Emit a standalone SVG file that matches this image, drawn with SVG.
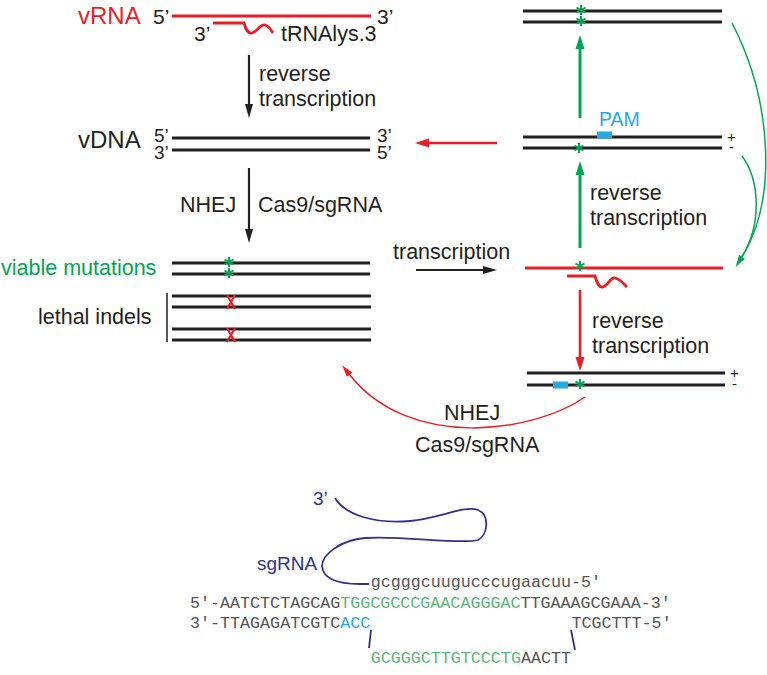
<svg xmlns="http://www.w3.org/2000/svg" width="767" height="675" viewBox="0 0 767 675">
<style>
.t{font-family:"Liberation Sans",Arial,sans-serif;font-size:21.5px;fill:#231f20}
.big{font-size:24px}
.end{font-size:21px}
.pm{font-size:15px}
.seq{font-family:"Liberation Mono","Courier New",monospace;font-size:16.7px;fill:#555}
.g{fill:#5cb87a}
.b{fill:#27aae1}
.dna{stroke:#231f20;stroke-width:2.8;fill:none}
.rna{stroke:#ed1c24;stroke-width:2.8;fill:none}
.navy{stroke:#2e3192;stroke-width:1.8;fill:none}
</style>
<defs>
<marker id="ak" markerUnits="userSpaceOnUse" markerWidth="16" markerHeight="10" viewBox="0 -5 16 10" refX="2" refY="0" orient="auto"><path d="M0,-4 L14,0 L0,4 Z" fill="#231f20"/></marker>
<marker id="ag" markerUnits="userSpaceOnUse" markerWidth="16" markerHeight="10" viewBox="0 -5 16 10" refX="2" refY="0" orient="auto"><path d="M0,-4.5 L14,0 L0,4.5 Z" fill="#00a651"/></marker>
<marker id="ar" markerUnits="userSpaceOnUse" markerWidth="16" markerHeight="10" viewBox="0 -5 16 10" refX="2" refY="0" orient="auto"><path d="M0,-4.5 L14,0 L0,4.5 Z" fill="#ed1c24"/></marker>
<marker id="ags" markerUnits="userSpaceOnUse" markerWidth="14" markerHeight="10" viewBox="0 -5 14 10" refX="1" refY="0" orient="auto"><path d="M0,-3.5 L12,0 L0,3.5 Z" fill="#00a651"/></marker>
<marker id="ars" markerUnits="userSpaceOnUse" markerWidth="14" markerHeight="10" viewBox="0 -5 14 10" refX="1" refY="0" orient="auto"><path d="M0,-3.5 L12,0 L0,3.5 Z" fill="#ed1c24"/></marker>
<g id="star"><path d="M0,-5 V5 M-4.5,-2.5 L4.5,2.5 M-4.5,2.5 L4.5,-2.5" stroke="#00a651" stroke-width="2" fill="none"/></g>
<g id="xmark"><path d="M-4,-7 L4,7 M4,-7 L-4,7" stroke="#ed1c24" stroke-width="2.2" fill="none"/></g>
</defs>

<g id="vRNA">
<text class="t big" x="78" y="24" style="fill:#ed1c24">vRNA</text>
<text class="t end" x="153" y="24">5’</text>
<line class="rna" x1="172" y1="16" x2="371" y2="16"/>
<text class="t end" x="377" y="24">3’</text>
<text class="t end" x="194" y="41">3’</text>
<path class="rna" d="M213,23 H244 C246,30 248,34 252,33 C258,31 260,24 265,25 C269,26 271,30 273,33" stroke-width="2.4"/>
<text class="t" x="281" y="41">tRNAlys.3</text>
</g>

<g id="vDNA">
<text class="t big" x="78" y="148">vDNA</text>
<text class="t" x="154" y="142" style="font-size:19px">5’</text>
<text class="t" x="154" y="159" style="font-size:19px">3’</text>
<line class="dna" x1="172" y1="138" x2="370" y2="138"/>
<line class="dna" x1="172" y1="150" x2="370" y2="150"/>
<text class="t" x="377" y="142" style="font-size:19px">3’</text>
<text class="t" x="377" y="159" style="font-size:19px">5’</text>
</g>

<g id="mutants">
<text class="t" x="1" y="275" style="fill:#00a651">viable mutations</text>
<line class="dna" x1="172" y1="263" x2="370" y2="263"/>
<line class="dna" x1="172" y1="274" x2="370" y2="274"/>
<use href="#star" x="229" y="262"/>
<use href="#star" x="229" y="273"/>
<text class="t" x="38" y="324">lethal indels</text>
<line x1="167" y1="293" x2="167" y2="342" stroke="#231f20" stroke-width="1.5"/>
<line class="dna" x1="172" y1="296" x2="371" y2="296"/>
<line class="dna" x1="172" y1="307" x2="371" y2="307"/>
<line class="dna" x1="172" y1="329" x2="371" y2="329"/>
<line class="dna" x1="172" y1="340" x2="371" y2="340"/>
<use href="#xmark" x="231" y="302"/>
<use href="#xmark" x="231" y="335"/>
</g>

<g id="dnaTop">
<line class="dna" x1="523" y1="11" x2="722" y2="11"/>
<line class="dna" x1="523" y1="22" x2="722" y2="22"/>
<use href="#star" x="581" y="10"/>
<use href="#star" x="581" y="21"/>
</g>

<g id="dnaPAM">
<text class="t" x="599" y="126" style="fill:#27aae1;font-size:19.5px">PAM</text>
<line class="dna" x1="523" y1="137" x2="722" y2="137"/>
<line class="dna" x1="523" y1="148" x2="722" y2="148"/>
<rect x="597" y="131.5" width="15" height="7" fill="#27aae1"/>
<use href="#star" x="579" y="148"/>
<text class="t pm" x="727" y="142">+</text>
<text class="t pm" x="729" y="152">-</text>
</g>

<g id="rnaMid">
<line class="rna" x1="525" y1="268" x2="723" y2="268"/>
<use href="#star" x="580" y="266"/>
<path class="rna" d="M567,276 H595 C597,283 599,288 603,287 C609,285 610,277 615,278 C620,279 623,283 627,287" stroke-width="2.4"/>
</g>

<g id="dnaBottom">
<line class="dna" x1="527" y1="373" x2="725" y2="373"/>
<line class="dna" x1="527" y1="385" x2="725" y2="385"/>
<rect x="553" y="381.5" width="15" height="7" fill="#27aae1"/>
<use href="#star" x="580" y="384"/>
<text class="t pm" x="730" y="378">+</text>
<text class="t pm" x="732" y="389">-</text>
</g>

<g id="connectors">
<line x1="249" y1="55" x2="249" y2="106" stroke="#231f20" stroke-width="2.2" marker-end="url(#ak)"/>
<line x1="249" y1="168" x2="249" y2="231" stroke="#231f20" stroke-width="2.2" marker-end="url(#ak)"/>
<line x1="416" y1="270" x2="485" y2="270" stroke="#231f20" stroke-width="2.2" marker-end="url(#ak)"/>
<line x1="497" y1="143" x2="427" y2="143" stroke="#ed1c24" stroke-width="2.4" marker-end="url(#ar)"/>
<line x1="580" y1="118" x2="580" y2="47" stroke="#00a651" stroke-width="3" marker-end="url(#ag)"/>
<line x1="580" y1="248" x2="580" y2="173" stroke="#00a651" stroke-width="3" marker-end="url(#ag)"/>
<line x1="580" y1="290" x2="580" y2="359" stroke="#ed1c24" stroke-width="2.6" marker-end="url(#ar)"/>
<path d="M732,23 C772,100 778,200 741.5,257.6" stroke="#00a651" stroke-width="1.5" fill="none" marker-end="url(#ags)"/>
<path d="M742,156 C760,180 762,225 741.5,257.6" stroke="#00a651" stroke-width="1.5" fill="none"/>
<path d="M585,397 C535,432 410,452 349,374" stroke="#ed1c24" stroke-width="1.5" fill="none" marker-end="url(#ars)"/>
</g>

<g id="labels">
<text class="t" x="259" y="81">reverse</text>
<text class="t" x="259" y="106">transcription</text>
<text class="t" x="180" y="212">NHEJ</text>
<text class="t" x="258" y="212">Cas9/sgRNA</text>
<text class="t" x="393" y="259">transcription</text>
<text class="t" x="590" y="200">reverse</text>
<text class="t" x="590" y="225">transcription</text>
<text class="t" x="592" y="328">reverse</text>
<text class="t" x="592" y="353">transcription</text>
<text class="t" x="444" y="420">NHEJ</text>
<text class="t" x="415" y="452">Cas9/sgRNA</text>
</g>

<g id="sgRNA">
<text class="t" x="313" y="505" style="fill:#2e3192;font-size:19px">3’</text>
<text class="t" x="257" y="570" style="fill:#2e3192;font-size:19px">sgRNA</text>
<path class="navy" d="M335,498 C345,515 375,524 410,521 C440,518 465,505 478,510 C490,515 488,535 478,540 C460,545 400,535 365,538 C340,540 322,555 322,566 C323,580 340,584 360,584 L369,584"/>
</g>

<g id="sequence">
<text class="seq" x="370.7" y="587">gcgggcuugucccugaacuu-5′</text>
<text class="seq" x="190" y="608">5′-AATCTCTAGCAG<tspan class="g">TGGCGCCCGAACAGGGAC</tspan>TTGAAAGCGAAA-3′</text>
<text class="seq" x="190" y="628">3′-TTAGAGATCGTC<tspan class="b">ACC</tspan></text>
<text class="seq" x="571.5" y="628">TCGCTTT-5′</text>
<text class="seq" x="370.7" y="663"><tspan class="g">GCGGGCTTGTCCCTG</tspan>AACTT</text>
<path class="navy" d="M371,630 L369,648 M571,630 L575,650" stroke-width="1.6"/>
</g>
</svg>
